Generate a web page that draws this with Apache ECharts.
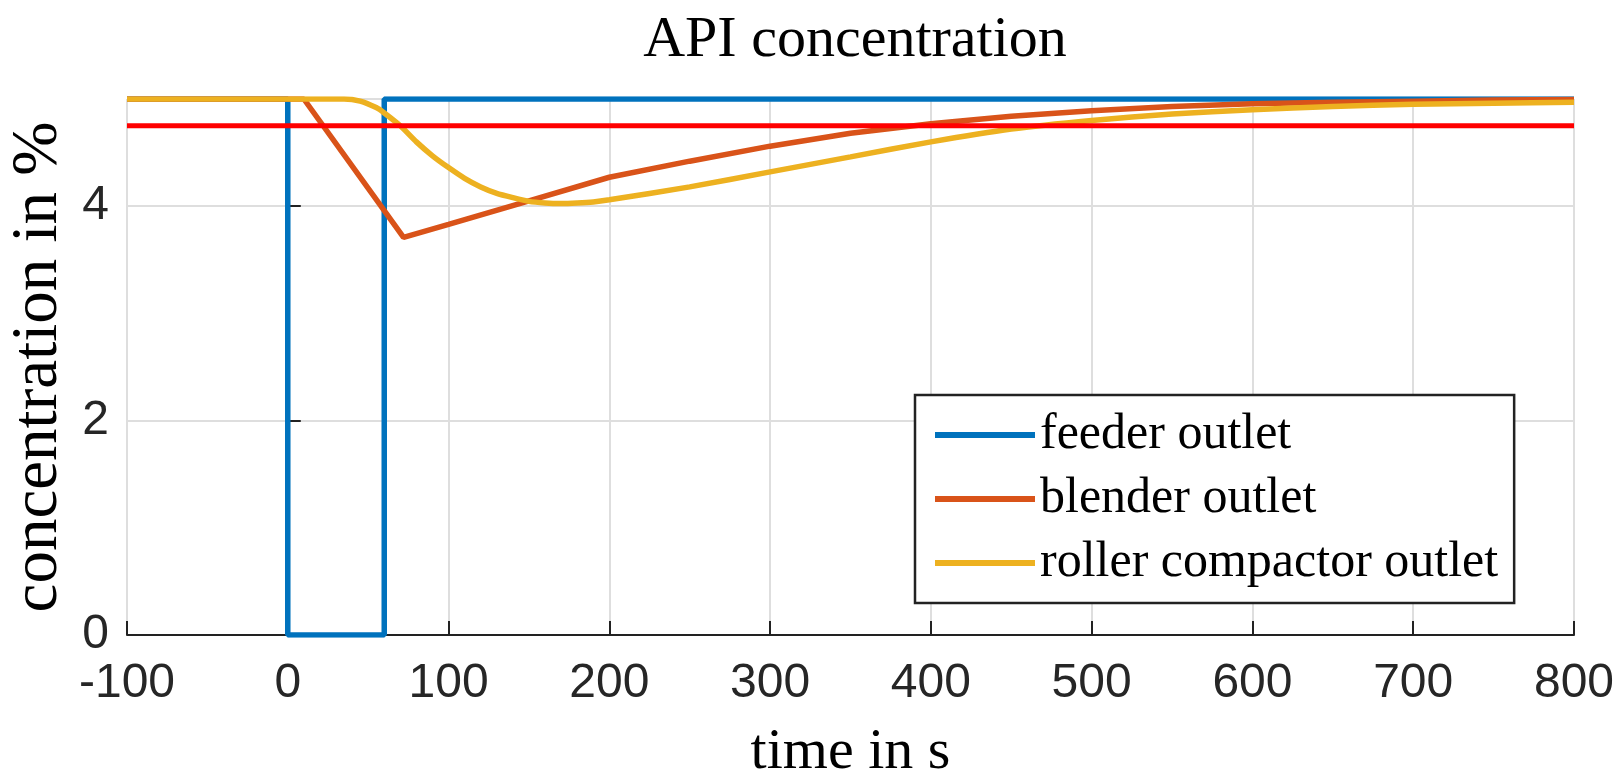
<!DOCTYPE html>
<html>
<head>
<meta charset="utf-8">
<script src="https://cdn.jsdelivr.net/npm/echarts@6/dist/echarts.min.js"></script>
<style>html,body{margin:0;padding:0;background:#fff;}#c{width:1616px;height:778px;}</style>
</head>
<body>
<div id="c"></div>
<script>
const titleText = 'API concentration';
const xName = 'time in s';
const yName = 'concentration in %';
const seriesNames = ['feeder outlet', 'blender outlet', 'roller compactor outlet'];

const feederT = [-100, 0, 0, 60, 60, 800];
const feederC = [5, 5, 0, 0, 5, 5];

const blenderT = [-100, 10, 72, 100, 150, 200, 250, 300, 350, 400, 450, 500, 550, 600, 650, 700, 750, 800];
const blenderC = [5, 5, 3.71, 3.83, 4.05, 4.27, 4.42, 4.56, 4.68, 4.77, 4.84, 4.89, 4.93, 4.955, 4.97, 4.98, 4.99, 4.995];

const rollerT = [-100, 35, 45, 55, 60, 70, 80, 90, 100, 110, 120, 130, 140, 150, 160, 170, 180, 190, 200, 250, 300, 350, 400, 450, 500, 550, 600, 650, 700, 750, 800];
const rollerC = [5, 5, 4.98, 4.92, 4.87, 4.75, 4.6, 4.47, 4.36, 4.26, 4.18, 4.12, 4.08, 4.045, 4.03, 4.025, 4.03, 4.04, 4.06, 4.18, 4.32, 4.46, 4.6, 4.72, 4.8, 4.86, 4.9, 4.93, 4.95, 4.96, 4.97];

const limitT = [-100, 800];
const limitC = [4.75, 4.75];

const xTicks = {min: -100, max: 800, interval: 100};
const yTicks = {min: 0, max: 5, interval: 2};

const colors = ['#0072BD', '#D95319', '#EDB120', '#FF0000'];

function pairs(t, c) { return t.map((v, i) => [v, c[i]]); }

const chart = echarts.init(document.getElementById('c'), null, {renderer: 'canvas'});
const serif = '"Liberation Serif", "DejaVu Serif", serif';
const sans = '"Liberation Sans", Arial, sans-serif';

chart.setOption({
  animation: false,
  backgroundColor: '#ffffff',
  title: {
    text: titleText,
    left: 850,
    textAlign: 'center',
    top: 7,
    textStyle: {fontFamily: serif, fontSize: 58, fontWeight: 'normal', color: '#000'}
  },
  grid: {left: 127, right: 42, top: 99, bottom: 143, containLabel: false, outerBoundsMode: 'none'},
  legend: {
    data: seriesNames,
    left: 915,
    top: 395,
    orient: 'vertical',
    icon: 'rect',
    itemWidth: 100,
    itemHeight: 6,
    itemGap: 14,
    padding: [15, 16, 15, 20],
    borderColor: '#222',
    borderWidth: 2.5,
    backgroundColor: '#fff',
    textStyle: {fontFamily: serif, fontSize: 50, color: '#000'}
  },
  xAxis: {
    type: 'value',
    min: xTicks.min, max: xTicks.max, interval: xTicks.interval,
    name: xName,
    nameLocation: 'middle',
    nameGap: 89,
    nameTextStyle: {fontFamily: serif, fontSize: 58, color: '#000'},
    axisLine: {show: true, onZero: false, lineStyle: {color: '#222', width: 2}},
    axisTick: {show: true, inside: true, length: 14, lineStyle: {color: '#222', width: 2}},
    axisLabel: {fontFamily: sans, fontSize: 48, color: '#262626', margin: 25},
    splitLine: {show: true, lineStyle: {color: '#dedede', width: 2}}
  },
  yAxis: {
    type: 'value',
    min: yTicks.min, max: yTicks.max, interval: yTicks.interval,
    name: yName,
    nameLocation: 'middle',
    nameRotate: 90,
    nameGap: 50,
    nameTextStyle: {fontFamily: serif, fontSize: 65, color: '#000'},
    axisLine: {show: true, lineStyle: {color: '#222', width: 2}},
    axisTick: {show: true, inside: true, length: 13, lineStyle: {color: '#222', width: 2}},
    axisLabel: {fontFamily: sans, fontSize: 48, color: '#262626', margin: 18, showMaxLabel: false},
    splitLine: {show: true, lineStyle: {color: '#dedede', width: 2}}
  },
  series: [
    {name: seriesNames[0], type: 'line', data: pairs(feederT, feederC), showSymbol: false, color: colors[0], lineStyle: {width: 5.5, color: colors[0]}, z: 2},
    {name: seriesNames[1], type: 'line', data: pairs(blenderT, blenderC), showSymbol: false, color: colors[1], lineStyle: {width: 5.5, color: colors[1]}, z: 3},
    {name: seriesNames[2], type: 'line', data: pairs(rollerT, rollerC), showSymbol: false, smooth: 0.2, color: colors[2], lineStyle: {width: 5.5, color: colors[2]}, z: 4},
    {name: 'limit', type: 'line', data: pairs(limitT, limitC), showSymbol: false, color: colors[3], lineStyle: {width: 5, color: colors[3]}, z: 5}
  ]
});
</script>
</body>
</html>
